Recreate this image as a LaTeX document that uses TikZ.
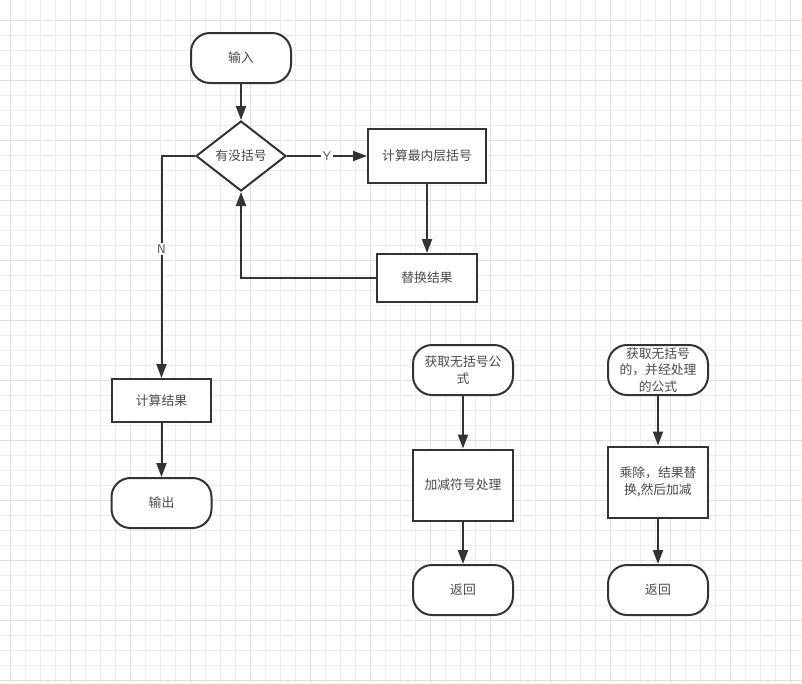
\documentclass[tikz,border=0pt]{standalone}
\usepackage{fontspec}
\newfontfamily\cjk{Noto Sans CJK SC}
\definecolor{GridMinor}{HTML}{EFECEC}
\definecolor{GridMajor}{HTML}{E0DEDE}
\definecolor{LineDark}{HTML}{333333}
\definecolor{TextGrey}{HTML}{4A4A4A}
\usetikzlibrary{arrows.meta, shapes.geometric}

\begin{document}
\begin{tikzpicture}[x=1pt, y=-1pt,
    every node/.style={font=\cjk\fontsize{12.8}{16.5}\selectfont, text=TextGrey},
    terminal/.style={draw=LineDark, line width=2pt, fill=white, rounded corners=19pt,
        minimum width=100pt, minimum height=50pt, align=center, inner sep=2pt},
    process/.style={draw=LineDark, line width=2pt, fill=white,
        minimum width=100pt, minimum height=48pt, align=center, inner sep=2pt},
    decision/.style={draw=LineDark, line width=2pt, fill=white, diamond, aspect=1.28,
        minimum width=90pt, minimum height=70pt, inner sep=0pt},
    flow/.style={draw=LineDark, line width=2pt, -{Triangle[length=14pt, width=10pt]}},
    answer/.style={fill=white, inner sep=1.5pt, font=\sffamily\fontsize{12.5}{14}\selectfont}]

\useasboundingbox (0,0) rectangle (802,683);
\fill[white] (0,0) rectangle (802,683);

% grid
\foreach \x in {10,25,...,800}
    \draw[GridMinor, line width=1pt] (\x,0) -- (\x,683);
\foreach \y in {20,35,...,680}
    \draw[GridMinor, line width=1pt] (0,\y) -- (802,\y);
\foreach \x in {10,70,...,790}
    \draw[GridMajor, line width=1pt] (\x,0) -- (\x,683);
\foreach \y in {20,80,...,680}
    \draw[GridMajor, line width=1pt] (0,\y) -- (802,\y);

% main loop
\node[terminal] (start) at (241,58) {输入};
\node[decision] (hasbr) at (241,156) {有没括号};
\node[process, minimum width=118pt, minimum height=54pt] (inner) at (427,156) {计算最内层括号};
\node[process] (replace) at (427,278) {替换结果};
\node[process, minimum width=99pt, minimum height=43pt] (result) at (161.5,400.5) {计算结果};
\node[terminal] (output) at (161.5,503) {输出};

\draw[flow] (start) -- (hasbr);
\draw[flow] (hasbr.east) -- node[answer]{Y} (inner.west);
\draw[flow] (inner) -- (replace);
\draw[flow] (replace.west) -| (hasbr.south);
\draw[flow] (hasbr.west) -| node[answer, pos=0.71]{N} (result.north);
\draw[flow] (result) -- (output);

% add and subtract
\node[terminal] (getA) at (463,370) {获取无括号公\\式};
\node[process, minimum height=71pt] (addsub) at (463,485) {加减符号处理};
\node[terminal] (retA) at (463,590) {返回};

\draw[flow] (getA) -- (addsub);
\draw[flow] (addsub) -- (retA);

% multiply and divide
\node[terminal] (getB) at (658,370) {获取无括号\\的，并经处理\\的公式};
\node[process, minimum height=71pt] (muldiv) at (658,482) {乘除，结果替\\换,然后加减};
\node[terminal] (retB) at (658,590) {返回};

\draw[flow] (getB) -- (muldiv);
\draw[flow] (muldiv) -- (retB);

\end{tikzpicture}
\end{document}
